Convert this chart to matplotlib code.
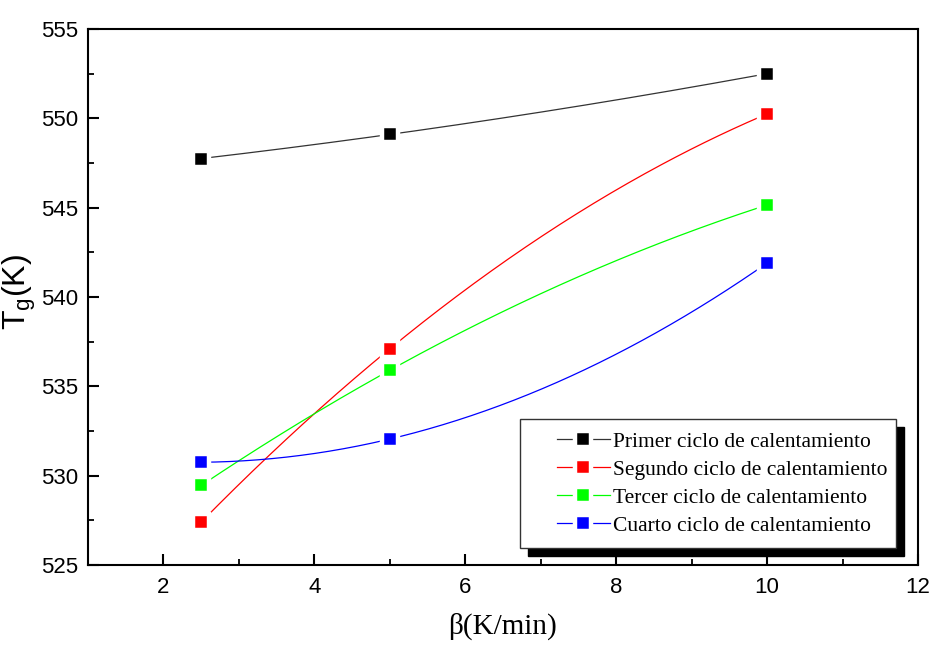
import numpy as np
import matplotlib
matplotlib.use('Agg')
import matplotlib.pyplot as plt
from matplotlib.lines import Line2D
from matplotlib.patches import Rectangle

# heating rate (K/min) and glass transition temperature (K)
beta = [2.5, 5.0, 10.0]
tg_primer = [547.75, 549.1, 552.5]
tg_segundo = [527.4, 537.1, 550.25]
tg_tercer = [529.45, 535.9, 545.15]
tg_cuarto = [530.75, 532.05, 541.9]

labels = ['Primer ciclo de calentamiento', 'Segundo ciclo de calentamiento',
          'Tercer ciclo de calentamiento', 'Cuarto ciclo de calentamiento']
colors = ['#000000', '#ff0000', '#00ff00', '#0000ff']
series = [tg_primer, tg_segundo, tg_tercer, tg_cuarto]

plt.rcParams['font.family'] = ['Liberation Sans', 'DejaVu Sans']
plt.rcParams['mathtext.fontset'] = 'custom'
plt.rcParams['mathtext.rm'] = 'Liberation Sans'

fig = plt.figure(figsize=(9.35, 6.46), dpi=100)
ax = fig.add_axes([0.0941, 0.1254, 0.8877, 0.8297])

handles = []
for y, c, lab in zip(series, colors, labels):
    # smooth connecting curve through the three points (spline-like)
    coef = np.polyfit(beta, y, 2)
    xs = np.linspace(beta[0], beta[-1], 200)
    lc = '#333333' if c == '#000000' else c
    ax.plot(xs, np.polyval(coef, xs), color=lc, lw=0.9, zorder=2)
    ax.plot(beta, y, ls='none', marker='s', ms=11, mfc=c, mec='white',
            mew=3.2, zorder=3)
    handles.append(Line2D([], [], color=lc, lw=0.9, marker='s', ms=11,
                          mfc=c, mec='white', mew=3.2))

ax.set_xlim(1, 12)
ax.set_ylim(525, 555)
ax.set_xticks([2, 4, 6, 8, 10, 12])
ax.set_xticks([3, 5, 7, 9, 11], minor=True)
ax.set_yticks(np.arange(525, 556, 5))
ax.set_yticks(np.arange(527.5, 555, 5), minor=True)
ax.tick_params(which='major', direction='in', length=8, width=1.5, labelsize=16)
ax.tick_params(which='minor', direction='in', length=4.5, width=1.3)
ax.tick_params(axis='y', pad=7)
ax.tick_params(axis='x', pad=9)
for s in ax.spines.values():
    s.set_linewidth(1.5)

ax.set_xlabel('β(K/min)', fontsize=21, family=['Liberation Serif', 'DejaVu Serif'],
              labelpad=10)
ax.set_ylabel(r'T$_\mathregular{g}$(K)', fontsize=23)
ax.yaxis.set_label_coords(-0.06, 0.51)

# legend frame with solid shadow
fx0, fy0, fw, fh = 0.520, 0.0317, 0.4535, 0.2407
dx, dy = 0.0097, -0.0149
ax.add_patch(Rectangle((fx0 + dx, fy0 + dy), fw, fh, transform=ax.transAxes,
                       facecolor='black', edgecolor='black', zorder=6, clip_on=False))
ax.add_patch(Rectangle((fx0, fy0), fw, fh, transform=ax.transAxes,
                       facecolor='white', edgecolor='#333333', lw=1.0, zorder=7,
                       clip_on=False))
leg = ax.legend(handles, labels, loc='center left', bbox_to_anchor=(0.5648, 0.152),
                frameon=False, borderpad=0, borderaxespad=0, handlelength=2.45,
                handletextpad=0.15, labelspacing=0.37,
                prop={'family': 'Liberation Serif', 'size': 15.5})
leg.set_zorder(10)

fig.savefig('out.png', dpi=100)
